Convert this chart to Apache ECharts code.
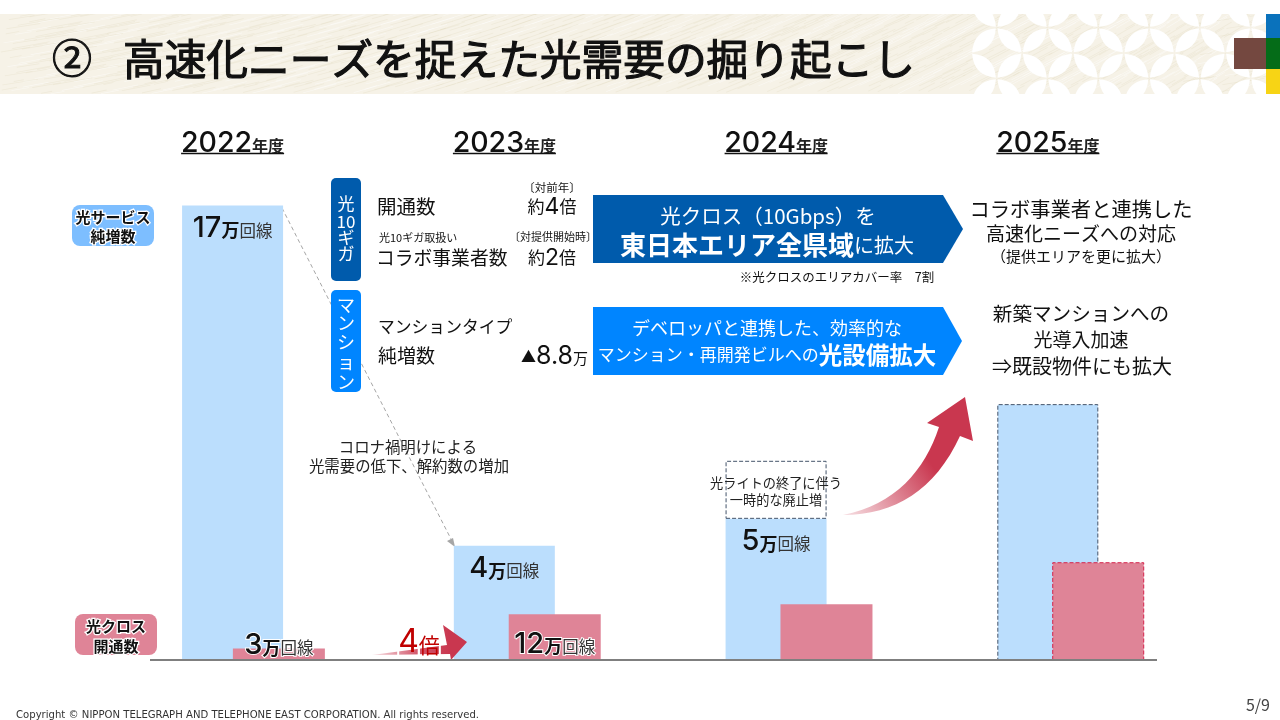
<!DOCTYPE html>
<html><head><meta charset="utf-8">
<style>html,body{margin:0;padding:0;background:#fff}#c{width:1280px;height:720px}</style>
<script src="https://cdn.jsdelivr.net/npm/echarts@6/dist/echarts.min.js"></script>
</head><body><div id="c"></div>
<script>
const years = ['2022','2023','2024','2025'];
const netAdds = [17, 4.27, 5.28, 9.57];
const netAddsTemporary = [null, null, 2.17, null];
const crossFirst = [3, null, null, null];
const crossRest = [null, 12, 14.6, 25.6];
const netLabels = ['17','4','5',null];
const crossLabels = ['3','12',null,null];

const JP = '"Noto Sans CJK JP"';
const NUM = 'Inter';
const BLUE='#BBDEFD', PINK='#DF8497', NAVY='#005BAC', AZURE='#0085FF', RED='#C9374F';

function headerImage(){
  const W=1280,H=80,s=2;
  const cv=document.createElement('canvas');cv.width=W*s;cv.height=H*s;
  const g=cv.getContext('2d');g.scale(s,s);
  g.fillStyle='#F6F2E7';g.fillRect(0,0,W,H);
  for(let i=0;i<1300;i++){
    const x=(i*0.6180339887%1)*W, y=(i*0.7548776662%1)*H, l=10+((i*0.5698)%1)*34;
    const a=(-0.55+((i*0.3819)%1)*0.4);
    g.strokeStyle=i%3==0?'rgba(255,255,255,.5)':'rgba(216,204,168,.22)';
    g.lineWidth=0.7;g.beginPath();g.moveTo(x,y);g.lineTo(x+l*Math.cos(a),y+l*Math.sin(a));g.stroke();
  }
  const a=50.8,x0=996.7,y0=39,r=25.4;
  const petal=(x1,y1,x2,y2)=>{
    g.beginPath();g.moveTo(x1,y1);
    const mx=(x1+x2)/2,my=(y1+y2)/2,dx=x2-x1,dy=y2-y1,k=0.43;
    g.quadraticCurveTo(mx-dy*k,my+dx*k,x2,y2);
    g.quadraticCurveTo(mx+dy*k,my-dx*k,x1,y1);
    g.closePath();g.fill();
  };
  g.fillStyle='#fff';
  for(let i=0;i<6;i++)for(let j=-1;j<2;j++){
    const cx=x0+i*a,cy=y0+j*a,q=r-0.8,p=0.8;
    petal(cx-p,cy-q,cx-q,cy-p);petal(cx+q,cy-p,cx+p,cy-q);
    petal(cx-q,cy+p,cx-p,cy+q);petal(cx+p,cy+q,cx+q,cy+p);
  }
  return cv;
}

function T(x,y,text,size,opt){
  opt=opt||{};
  return {type:'text',z:opt.z||100,silent:true,x:x,y:y,style:{
    text:text,fontFamily:opt.font||JP,fontSize:size,fill:opt.fill||'#111',
    fontWeight:opt.bold?'bold':'normal',
    align:opt.align||'center',verticalAlign:'middle',
    stroke:opt.stroke,lineWidth:opt.lw||0,rich:opt.rich
  }};
}
function R(x,y,w,h,fill,r,z){
  return {type:'rect',z:z||5,silent:true,shape:{x:x,y:y,width:w,height:h,r:r||0},style:{fill:fill}};
}
function P(points,fill,z){return {type:'polygon',z:z||5,silent:true,shape:{points:points},style:{fill:fill}};}
function grad(x,y,x2,y2,stops){return {type:'linear',x:x,y:y,x2:x2,y2:y2,global:true,colorStops:stops};}
function bez(p0,c1,c2,p3,n){
  const out=[];
  for(let i=0;i<=n;i++){const t=i/n,u=1-t;
    out.push([u*u*u*p0[0]+3*u*u*t*c1[0]+3*u*t*t*c2[0]+t*t*t*p3[0],u*u*u*p0[1]+3*u*u*t*c1[1]+3*u*t*t*c2[1]+t*t*t*p3[1]]);}
  return out;
}

const amount = (n)=>`{n|${n}}{m|万}{k|回線}`;
const amountRich = {
  n:{fontFamily:NUM,fontSize:29,fontWeight:500,color:'#111'},
  m:{fontFamily:JP,fontSize:18,fontWeight:'bold',color:'#111',padding:[5,0,0,0]},
  k:{fontFamily:JP,fontSize:16.5,color:'#333',padding:[5,0,0,0]}
};
const haloRich = {
  n:{...amountRich.n,textBorderColor:'#fff',textBorderWidth:2},
  m:{...amountRich.m,textBorderColor:'#fff',textBorderWidth:2},
  k:{...amountRich.k,textBorderColor:'#fff',textBorderWidth:2}
};
const baiRich={a:{fontFamily:JP,fontSize:17,fill:'#111'},b:{fontFamily:NUM,fontSize:23,fill:'#111'}};

const curve=[].concat(
  bez([843,515],[895,505],[925,470],[939,427],16),
  [[927,423],[965,397],[973,441],[960,436]],
  bez([960,436],[935,490],[895,515],[843,515],16).slice(1,-1)
);

const yearCenters=[232.6,504.4,776.1,1047.9];
const graphics=[
  {type:'image',z:0,silent:true,style:{image:headerImage(),x:0,y:14,width:1280,height:80}},
  R(1266,14,14,24,'#0A72BC',0,1),R(1266,38,14,31,'#056C18',0,1),R(1266,69,14,25,'#F7D415',0,1),
  R(1234,38,32,31,'#744840',0,1),
  T(72,58,'②',40,{stroke:'#111',lw:1}),
  T(123,59,'高速化ニーズを捉えた光需要の掘り起こし',41.7,{align:'left',stroke:'#111',lw:1.2}),
  {type:'line',z:1,silent:true,shape:{x1:282,y1:208,x2:452,y2:541},style:{stroke:'#A6A6A6',lineWidth:1,lineDash:[4,3]}},
  P([[455,547],[447,541],[453,538]],'#A6A6A6',1),
  R(72,205,82,41,'#7DBEFF',8,5),
  T(113,217,'光サービス',15,{bold:true,stroke:'#fff',lw:2.5}),
  T(113,236,'純増数',15,{bold:true,stroke:'#fff',lw:2.5}),
  R(75,614,82,41,PINK,8,5),
  T(116,626,'光クロス',15,{bold:true,stroke:'#fff',lw:2.5}),
  T(116,646,'開通数',15,{bold:true,stroke:'#fff',lw:2.5}),
  R(331,178,30,103,NAVY,5,5),
  T(346,204,'光',17,{fill:'#fff'}),T(346,222,'10',17,{fill:'#fff'}),T(346,238,'ギ',17,{fill:'#fff'}),T(346,254,'ガ',17,{fill:'#fff'}),
  R(331,290,30,102,AZURE,5,5),
  T(346,305,'マ',18,{fill:'#fff'}),T(346,323,'ン',18,{fill:'#fff'}),T(346,342,'シ',18,{fill:'#fff'}),T(346,362,'ョ',18,{fill:'#fff'}),T(346,382,'ン',18,{fill:'#fff'}),
  T(377,207,'開通数',19.5,{align:'left'}),
  T(552,188,'〔対前年〕',11.5),
  T(552,207,'{a|約}{b|4}{a|倍}',16,{rich:baiRich}),
  T(379,238,'光10ギガ取扱い',11,{align:'left'}),
  T(553,237,'〔対提供開始時〕',11),
  T(376,258,'コラボ事業者数',18.8,{align:'left'}),
  T(552,258,'{a|約}{b|2}{a|倍}',16,{rich:baiRich}),
  T(378,327,'マンションタイプ',16.8,{align:'left'}),
  T(378,356,'純増数',19,{align:'left'}),
  T(588,356,'{a|▲}{b|8.8}{c|万}',16,{align:'right',rich:{a:{fontFamily:JP,fontSize:15,fill:'#111'},b:{fontFamily:NUM,fontSize:25,fill:'#111'},c:{fontFamily:JP,fontSize:15,fill:'#111',padding:[4,0,0,0]}}}),
  P([[593,195],[943,195],[963,229],[943,263],[593,263]],NAVY,5),
  T(768,216,'光クロス（10Gbps）を',20.5,{fill:'#fff'}),
  T(767,245,'{a|東日本エリア全県域}{b|に拡大}',20,{fill:'#fff',rich:{a:{fontFamily:JP,fontSize:26,fontWeight:'bold',fill:'#fff'},b:{fontFamily:JP,fontSize:20,fill:'#fff'}}}),
  T(837,277,'※光クロスのエリアカバー率　7割',12.5),
  P([[593,307],[943,307],[962,341],[943,375],[593,375]],AZURE,5),
  T(767,328,'デベロッパと連携した、効率的な',18,{fill:'#fff'}),
  T(767,355,'{a|マンション・再開発ビルへの}{b|光設備拡大}',17,{fill:'#fff',rich:{a:{fontFamily:JP,fontSize:17,fill:'#fff'},b:{fontFamily:JP,fontSize:23.5,fontWeight:'bold',fill:'#fff'}}}),
  T(1081,209,'コラボ事業者と連携した',20.3),
  T(1081,234,'高速化ニーズへの対応',19),
  T(1081,256,'（提供エリアを更に拡大）',15),
  T(1081,314,'新築マンションへの',19.6),
  T(1081,340,'光導入加速',19),
  T(1082,366,'⇒既設物件にも拡大',20),
  T(408,447,'コロナ禍明けによる',15.4,{fill:'#222'}),
  T(409,466,'光需要の低下、解約数の増加',15.4,{fill:'#222'}),
  T(776,483,'光ライトの終了に伴う',13.2,{fill:'#222'}),
  T(776,500,'一時的な廃止増',13.2,{fill:'#222'}),
  P([[372,655],[447,645],[443,625],[467,642],[451,660],[450,654]],
    grad(372,650,450,650,[{offset:0,color:'rgba(201,55,79,.15)'},{offset:.6,color:'rgba(201,55,79,.85)'},{offset:1,color:RED}]),6),
  T(419,642,'{a|4}{b|倍}',20,{rich:{
    a:{fontFamily:NUM,fontSize:32,fill:'#C00000',textBorderColor:'#fff',textBorderWidth:2},
    b:{fontFamily:JP,fontSize:21,fill:'#C00000',textBorderColor:'#fff',textBorderWidth:2,padding:[6,0,0,0]}}}),
  P(curve,grad(850,515,930,462,[{offset:0,color:'rgba(201,55,79,.2)'},{offset:1,color:RED}]),6),
  {type:'line',z:20,silent:true,shape:{x1:150,y1:660,x2:1157,y2:660},style:{stroke:'#7F7F7F',lineWidth:2}},
  T(16,715,'Copyright © NIPPON TELEGRAPH AND TELEPHONE EAST CORPORATION. All rights reserved.',10.1,{align:'left',fill:'#333',font:'"DejaVu Sans"'}),
  T(1270,705,'5/9',16,{align:'right',fill:'#444'}),
];
yearCenters.forEach(c=>graphics.push({type:'line',z:20,silent:true,shape:{x1:c-51.5,y1:153.5,x2:c+51.5,y2:153.5},style:{stroke:'#111',lineWidth:1.4}}));

const xCat=(gridIndex,show)=>({type:'category',gridIndex,data:years,position:'top',axisLine:{show:false},axisTick:{show:false},
  axisLabel:show?{show:true,margin:-6,interval:0,formatter:v=>`{y|${v}}{n|年度}`,rich:{
    y:{fontFamily:NUM,fontSize:28.5,fontWeight:500,color:'#111'},n:{fontFamily:JP,fontSize:16,fontWeight:'bold',color:'#222',padding:[5,0,0,0]}}}:{show:false}});
const yVal=(gridIndex,max)=>({type:'value',gridIndex,min:0,max,show:false,splitLine:{show:false}});

const netStyle=i=>i===3?{color:BLUE,borderColor:'#44546A',borderWidth:1,borderType:'dashed'}:{color:BLUE};
const crossStyle=i=>i===3?{color:PINK,borderColor:'#D4224A',borderWidth:1,borderType:'dashed'}:{color:PINK};
const crossLabelAt=(i,n)=>n==null?{show:false}:{show:true,position:'inside',offset:i===0?[0,-9]:[0,7],formatter:amount(n),rich:haloRich};

const option={
  animation:false,
  backgroundColor:'#fff',
  textStyle:{fontFamily:JP},
  graphic:graphics,
  grid:[
    {left:96.7,width:1087,top:152,height:508},
    {left:147.1,width:1087,top:152,height:508},
    {left:143,width:1087,top:152,height:508}
  ],
  xAxis:[xCat(0,true),xCat(1,false),xCat(2,false)],
  yAxis:[yVal(0,19),yVal(1,133),yVal(2,133)],
  series:[
    {name:'光サービス純増数',type:'bar',xAxisIndex:0,yAxisIndex:0,stack:'net',barWidth:101,z:2,
     data:netAdds.map((v,i)=>({value:v,itemStyle:netStyle(i),
       label:netLabels[i]?{show:true,position:'insideTop',distance:8,formatter:amount(netLabels[i]),rich:amountRich}:{show:false}}))},
    {name:'光ライト終了に伴う一時的な廃止増',type:'bar',xAxisIndex:0,yAxisIndex:0,stack:'net',barWidth:101,z:2,
     itemStyle:{color:'rgba(255,255,255,0)',borderColor:'#44546A',borderWidth:1,borderType:'dashed'},data:netAddsTemporary},
    {name:'光クロス開通数',type:'bar',xAxisIndex:1,yAxisIndex:1,barWidth:92,z:3,
     data:crossRest.map((v,i)=>({value:v,itemStyle:crossStyle(i),label:crossLabelAt(i,crossLabels[i])}))},
    {name:'光クロス開通数(2022)',type:'bar',xAxisIndex:2,yAxisIndex:2,barWidth:92,z:3,
     data:crossFirst.map((v,i)=>({value:v,itemStyle:crossStyle(i),label:crossLabelAt(i,crossLabels[i])}))}
  ]
};
const chart=echarts.init(document.getElementById('c'),null,{renderer:'canvas'});
chart.setOption(option);
</script></body></html>
